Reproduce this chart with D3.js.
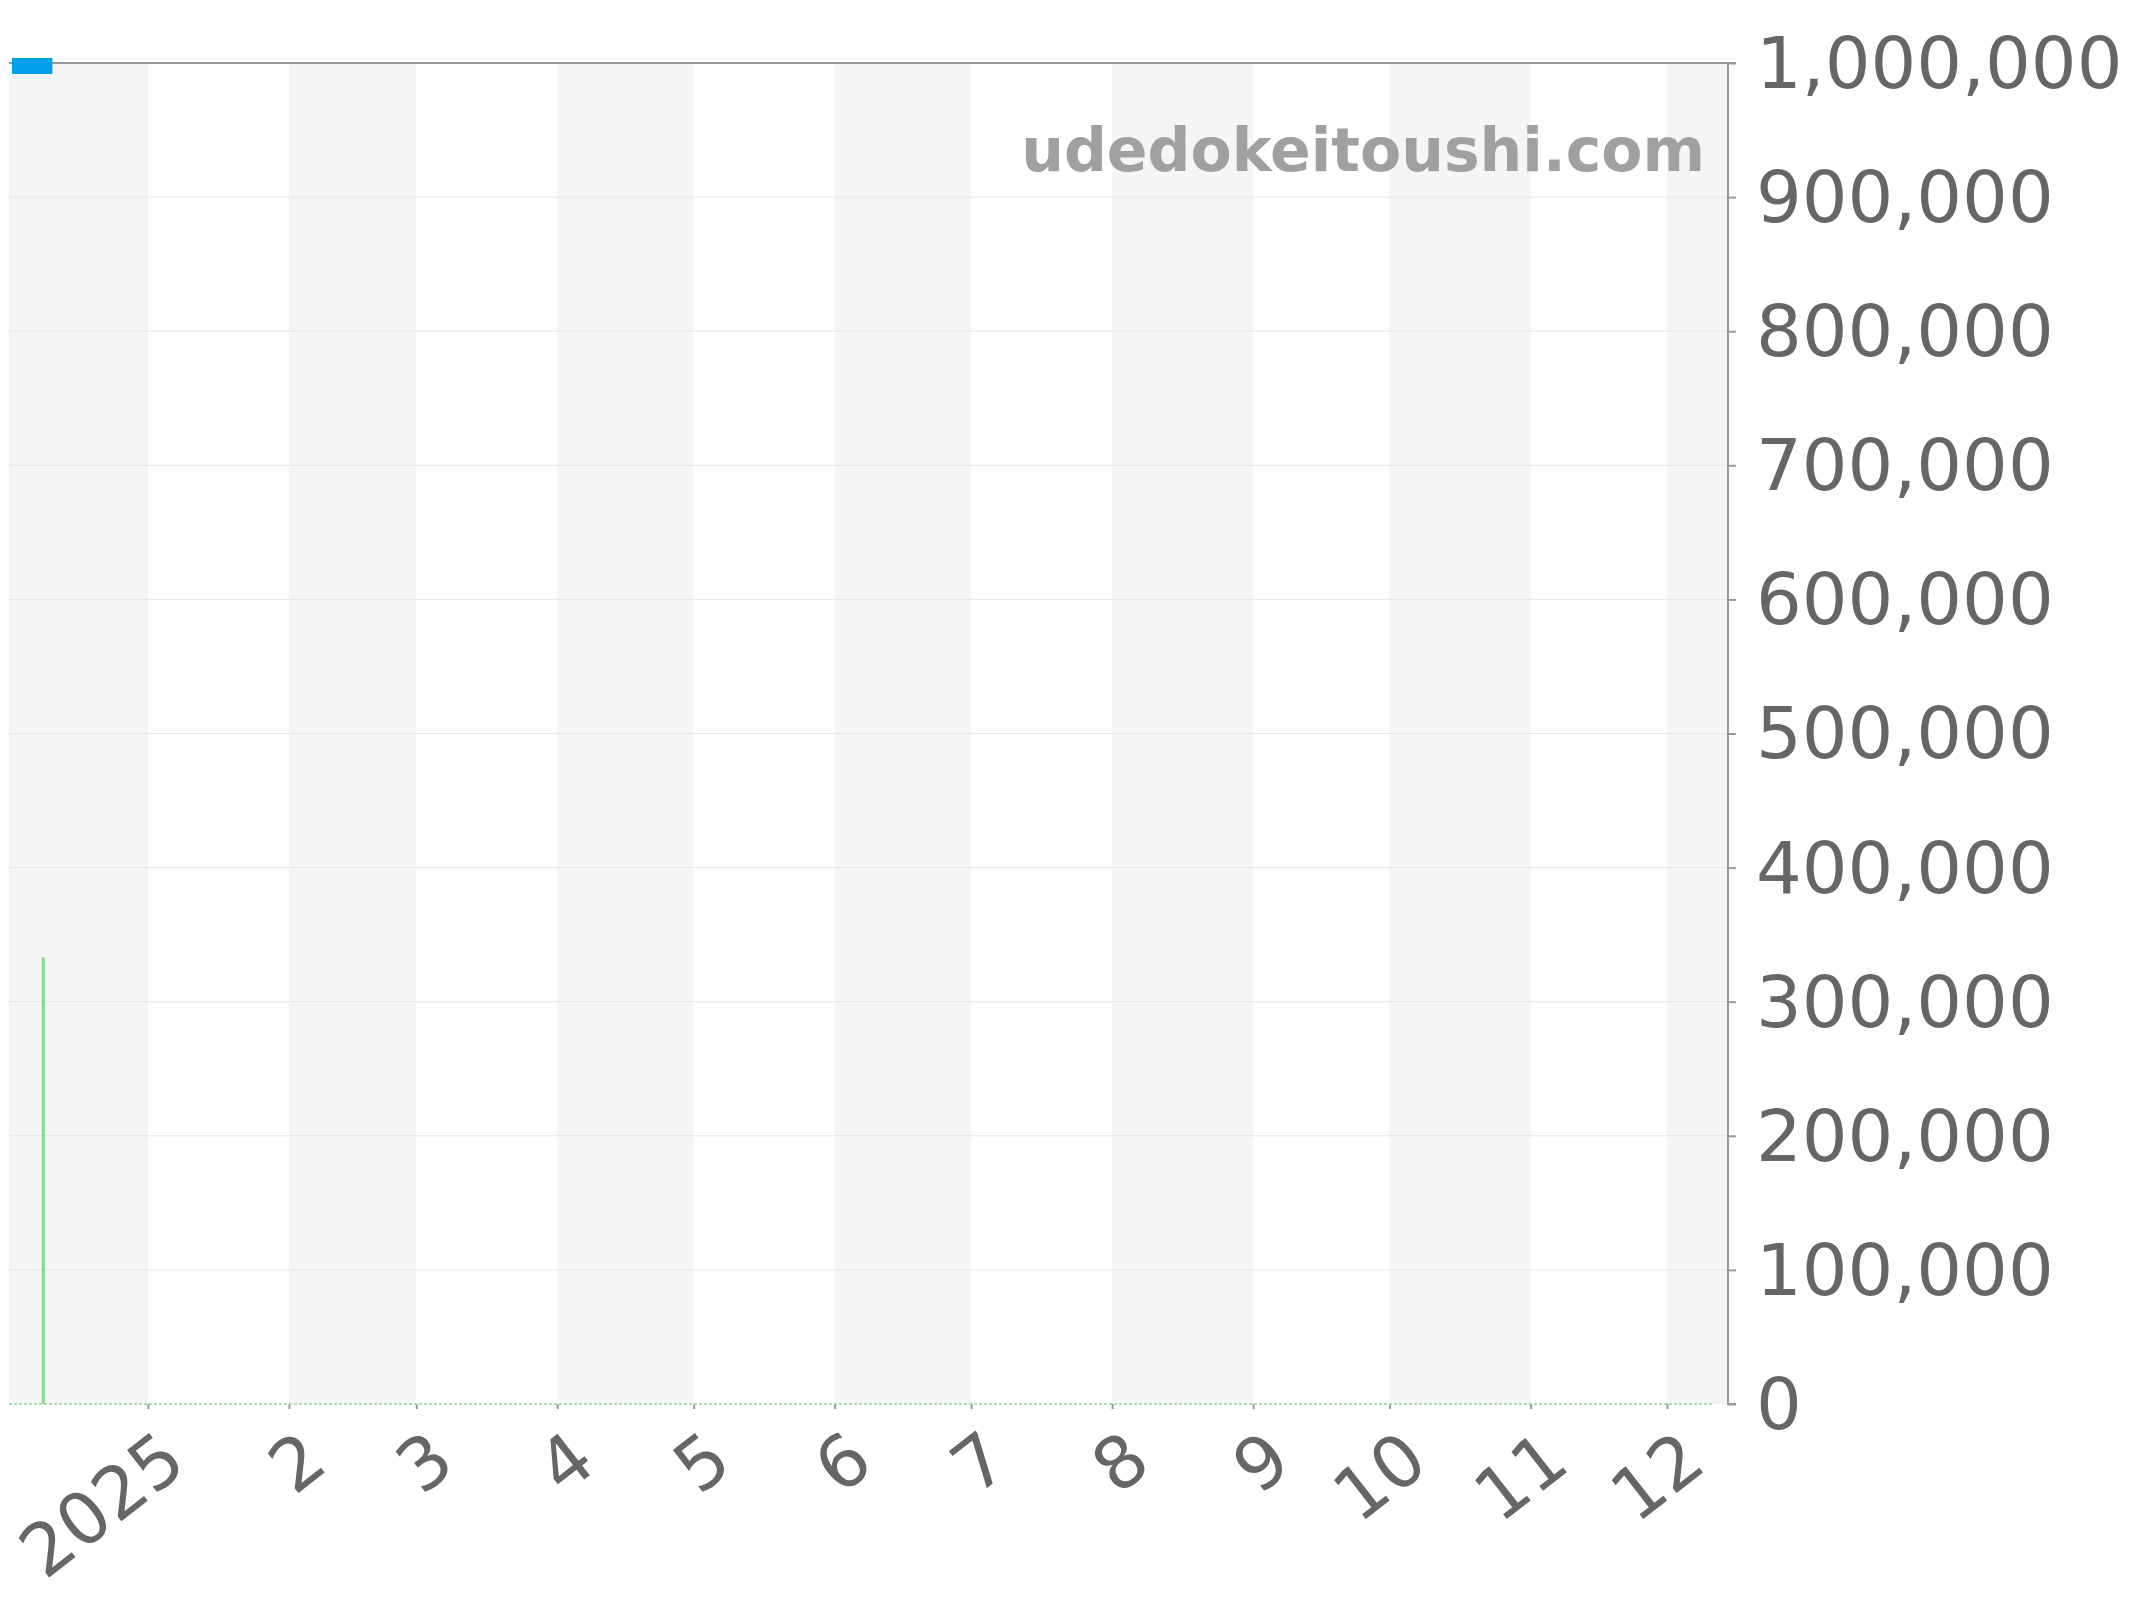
<!DOCTYPE html>
<html>
<head>
<meta charset="utf-8">
<script src="https://cdn.jsdelivr.net/npm/d3@7"></script>
<style>
html,body{margin:0;padding:0;background:#fff;}
svg{display:block;}
</style>
</head>
<body>
<svg id="chart" width="2144" height="1600"></svg>
<script>
// ---- data ----
const xDomain = ["2024-12-01T11:00:00Z", "2025-12-14T10:00:00Z"];
const monthTicks = ["2025-01-01","2025-02-01","2025-03-01","2025-04-01","2025-05-01","2025-06-01","2025-07-01","2025-08-01","2025-09-01","2025-10-01","2025-11-01","2025-12-01"];
const monthLabels = ["2025","2","3","4","5","6","7","8","9","10","11","12"];
const bandStarts = ["2024-12-01","2025-02-01","2025-04-01","2025-06-01","2025-08-01","2025-10-01","2025-12-01"];
const bandEnds   = ["2025-01-01","2025-03-01","2025-05-01","2025-07-01","2025-09-01","2025-11-01","2026-01-01"];
const yTicks = [0,100000,200000,300000,400000,500000,600000,700000,800000,900000,1000000];
const greenLineDates = ["2024-12-01","2025-12-11"];
const greenLineValues = [0,0];
const greenBarDates = ["2024-12-09"];
const greenBarValues = [333000];
const blueSegStart = ["2024-12-01"];
const blueSegEnd = ["2024-12-11"];
const blueSegValue = [1000000];
const watermark = "udedokeitoushi.com";

// ---- layout ----
const L = 9, R = 1728, T = 63, B = 1404;
const svg = d3.select("#chart");
const font = "'DejaVu Sans', sans-serif";
const pd = s => new Date(s.length <= 10 ? s + "T00:00:00Z" : s);

const x = d3.scaleUtc().domain(xDomain.map(pd)).range([L, R]).clamp(true);
const y = d3.scaleLinear().domain([0, 1000000]).range([B, T]);

// bands
svg.append("g").selectAll("rect").data(bandStarts).join("rect")
  .attr("x", (d) => x(pd(d)))
  .attr("y", T)
  .attr("width", (d,i) => x(pd(bandEnds[i])) - x(pd(d)))
  .attr("height", B - T)
  .attr("fill", "#f5f5f5");

// gridlines
svg.append("g").selectAll("line").data(yTicks.slice(1, -1)).join("line")
  .attr("x1", L).attr("x2", R)
  .attr("y1", d => y(d)).attr("y2", d => y(d))
  .attr("stroke", "#e6e6e6").attr("stroke-width", 1);

// watermark
svg.append("text")
  .attr("x", 1705).attr("y", 171)
  .attr("text-anchor", "end")
  .attr("font-family", font).attr("font-weight", "bold").attr("font-size", 60)
  .attr("fill", "#a0a0a0")
  .text(watermark);

// right y axis
const yAxis = d3.axisRight(y).tickValues(yTicks).tickSize(8).tickPadding(20)
  .tickFormat(d3.format(","));
const ya = svg.append("g").attr("transform", `translate(${R},0)`).call(yAxis);
ya.select(".domain").attr("stroke", "#999").attr("stroke-width", 2).attr("d", `M8,${T}H0V${B}H8`);
ya.selectAll(".tick line").attr("stroke", "#999").attr("stroke-width", 2);
ya.selectAll(".tick text").attr("font-family", font).attr("font-size", 72)
  .attr("fill", "#666").attr("dy", "0.34em");

// top border
svg.append("line").attr("x1", L).attr("x2", R).attr("y1", T).attr("y2", T)
  .attr("stroke", "#999").attr("stroke-width", 2);

// bottom x axis
const xAxis = d3.axisBottom(x).tickValues(monthTicks.map(pd)).tickSize(5)
  .tickFormat((d,i) => monthLabels[i]);
const xa = svg.append("g").attr("transform", `translate(0,${B})`).call(xAxis);
xa.select(".domain").remove();
xa.selectAll(".tick line").attr("stroke", "#999").attr("stroke-width", 2);
xa.selectAll(".tick text")
  .attr("font-family", font).attr("font-size", 72).attr("fill", "#666")
  .attr("text-anchor", "end").attr("dy", null).attr("y", null)
  .attr("transform", "translate(41,64) rotate(-38)");

// green zero line (dashed)
const line = d3.line().x(d => x(pd(d[0]))).y(d => y(d[1]));
svg.append("path")
  .attr("d", line(greenLineDates.map((d,i) => [d, greenLineValues[i]])))
  .attr("fill", "none").attr("stroke", "#8fd99a").attr("stroke-width", 1.5)
  .attr("stroke-dasharray", "3,2");

// green spike
svg.append("g").selectAll("rect").data(greenBarDates).join("rect")
  .attr("x", d => x(pd(d)) - 1.5)
  .attr("y", (d,i) => y(greenBarValues[i]))
  .attr("width", 3)
  .attr("height", (d,i) => B - y(greenBarValues[i]))
  .attr("fill", "#8cd88f");

// blue marker at top
svg.append("g").selectAll("rect").data(blueSegStart).join("rect")
  .attr("x", d => x(pd(d)) + 3)
  .attr("y", (d,i) => y(blueSegValue[i]) - 5)
  .attr("width", (d,i) => x(pd(blueSegEnd[i])) - x(pd(d)) - 3)
  .attr("height", 16)
  .attr("fill", "#00a0e9");
</script>
</body>
</html>
